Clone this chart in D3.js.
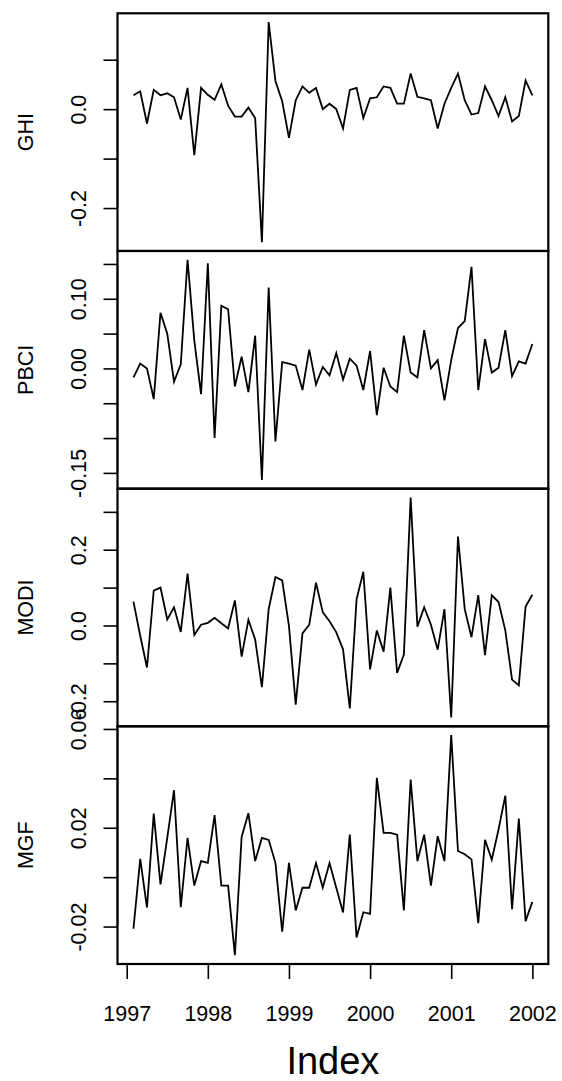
<!DOCTYPE html>
<html>
<head>
<meta charset="utf-8">
<script src="https://cdn.jsdelivr.net/npm/d3@7"></script>
<style>
  html, body { margin: 0; padding: 0; background: #fff; }
  svg { display: block; }
  text { font-family: "Liberation Sans", Arial, Helvetica, sans-serif; fill: #000; }
</style>
</head>
<body>
<script>
// ---------------- data ----------------
const seriesNames = ["GHI", "PBCI", "MODI", "MGF"];
const startYear = 1997, startMonth = 2;   // monthly data, Feb 1997 .. Jan 2002
const xTickLabels = [1997, 1998, 1999, 2000, 2001, 2002];
const xLabel = "Index";

const GHI = [0.028, 0.036, -0.029, 0.039, 0.028, 0.032, 0.024, -0.021, 0.043, -0.093,
  0.043, 0.029, 0.019, 0.050, 0.007, -0.015, -0.015, 0.003, -0.018, -0.269,
  0.176, 0.057, 0.016, -0.058, 0.018, 0.046, 0.033, 0.043, 0.000, 0.011,
  0.000, -0.039, 0.039, 0.043, -0.018, 0.022, 0.024, 0.046, 0.043, 0.011,
  0.011, 0.072, 0.025, 0.022, 0.018, -0.039, 0.011, 0.043, 0.072, 0.018,
  -0.011, -0.008, 0.046, 0.018, -0.014, 0.024, -0.025, -0.014, 0.058, 0.028];

const PBCI = [-0.013, 0.007, 0.000, -0.044, 0.080, 0.050, -0.019, 0.006, 0.156, 0.040,
  -0.037, 0.151, -0.100, 0.090, 0.085, -0.026, 0.017, -0.034, 0.047, -0.160,
  0.116, -0.105, 0.009, 0.007, 0.004, -0.031, 0.027, -0.023, 0.002, -0.010,
  0.022, -0.016, 0.014, 0.004, -0.031, 0.025, -0.067, 0.001, -0.026, -0.034,
  0.047, -0.006, -0.013, 0.055, 0.000, 0.012, -0.046, 0.012, 0.058, 0.068,
  0.146, -0.031, 0.042, -0.006, 0.001, 0.055, -0.011, 0.010, 0.007, 0.035];

const MODI = [0.063, -0.027, -0.111, 0.092, 0.100, 0.016, 0.048, -0.017, 0.137, -0.025,
  0.002, 0.007, 0.020, 0.006, -0.008, 0.066, -0.082, 0.015, -0.037, -0.163,
  0.043, 0.128, 0.119, -0.001, -0.209, -0.021, 0.002, 0.113, 0.035, 0.011,
  -0.018, -0.063, -0.219, 0.069, 0.142, -0.116, -0.013, -0.069, 0.100, -0.125,
  -0.077, 0.338, -0.003, 0.048, 0.002, -0.064, 0.043, -0.243, 0.235, 0.043,
  -0.031, 0.080, -0.078, 0.080, 0.062, -0.013, -0.143, -0.158, 0.050, 0.081];

const MGF = [-0.0209, 0.0074, -0.0123, 0.0257, -0.0029, 0.0159, 0.0352, -0.0122, 0.0159, -0.0034,
  0.0065, 0.0058, 0.0251, -0.0034, -0.0034, -0.0316, 0.0163, 0.0259, 0.0065, 0.0159,
  0.0151, 0.0058, -0.0221, 0.0058, -0.0135, -0.0043, -0.0043, 0.0057, -0.0042, 0.0057,
  -0.0043, -0.0143, 0.0172, -0.0244, -0.0142, -0.0149, 0.0402, 0.0179, 0.0179, 0.0172,
  -0.0135, 0.0395, 0.0065, 0.0172, -0.0034, 0.0166, 0.0065, 0.0575, 0.0106, 0.0093,
  0.0072, -0.0186, 0.0151, 0.0071, 0.0193, 0.0330, -0.0130, 0.0237, -0.0178, -0.0100];

// y-axis ticks (all) and the ones that carry a label
const yTicks = {
  GHI:  [-0.2, -0.1, 0.0, 0.1],
  PBCI: [-0.15, -0.10, -0.05, 0.00, 0.05, 0.10, 0.15],
  MODI: [-0.2, -0.1, 0.0, 0.1, 0.2, 0.3],
  MGF:  [-0.02, 0.00, 0.02, 0.04, 0.06]
};
const yTickLabels = {
  GHI:  ["-0.2", "0.0"],
  PBCI: ["-0.15", "0.00", "0.10"],
  MODI: ["-0.2", "0.0", "0.2"],
  MGF:  ["-0.02", "0.02", "0.06"]
};

// ---------------- layout ----------------
const W = 562, H = 1081;
const plotLeft = 117.5, plotRight = 548.3, plotTop = 13.3, plotBottom = 964;
const panelH = (plotBottom - plotTop) / seriesNames.length;
const fontSize = 21.5;

const values = { GHI, PBCI, MODI, MGF };
const dates = GHI.map((_, i) => startYear + (startMonth - 1 + i) / 12);

function padExtent(ext) {
  const p = (ext[1] - ext[0]) * 0.04;
  return [ext[0] - p, ext[1] + p];
}

const svg = d3.select("body").append("svg").attr("width", W).attr("height", H);

const x = d3.scaleLinear().domain(padExtent(d3.extent(dates))).range([plotLeft, plotRight]);

seriesNames.forEach((name, k) => {
  const top = plotTop + k * panelH, bottom = top + panelH;
  const vals = values[name];
  const y = d3.scaleLinear().domain(padExtent(d3.extent(vals))).range([bottom, top]);
  const g = svg.append("g");

  // series line
  const line = d3.line().x((d, i) => x(dates[i])).y(d => y(d));
  g.append("path").datum(vals).attr("d", line)
    .attr("fill", "none").attr("stroke", "#000").attr("stroke-width", 1.8)
    .attr("stroke-linejoin", "miter");

  // y axis
  const ticks = yTicks[name];
  const labelled = yTickLabels[name];
  const axis = d3.axisLeft(y).tickValues(ticks).tickSize(14).tickPadding(0)
    .tickFormat(d => { const s = labelled.find(l => Math.abs(+l - d) < 1e-9); return s === undefined ? "" : s; });
  const ax = g.append("g").attr("transform", `translate(${plotLeft},0)`).call(axis);
  ax.select(".domain").attr("d", `M0,${y(d3.min(ticks))}V${y(d3.max(ticks))}`)
    .attr("stroke", "#000").attr("stroke-width", 1.6);
  ax.selectAll(".tick line").attr("stroke", "#000").attr("stroke-width", 1.6);
  ax.selectAll(".tick text")
    .attr("x", null).attr("dy", null)
    .attr("transform", "translate(-31.8,0) rotate(-90)")
    .attr("text-anchor", "middle")
    .attr("font-size", fontSize)
    .attr("font-family", "'Liberation Sans', Arial, sans-serif")
    .attr("fill", "#000");

  // panel label
  g.append("text")
    .attr("transform", `translate(33.3,${(top + bottom) / 2}) rotate(-90)`)
    .attr("text-anchor", "middle").attr("font-size", fontSize)
    .text(name);

  // box
  g.append("rect").attr("x", plotLeft).attr("y", top)
    .attr("width", plotRight - plotLeft).attr("height", panelH)
    .attr("fill", "none").attr("stroke", "#000").attr("stroke-width", 2.2);
});

// x axis (bottom)
const xAxis = d3.axisBottom(x).tickValues(xTickLabels).tickSize(15).tickPadding(0).tickFormat(d3.format("d"));
const xa = svg.append("g").attr("transform", `translate(0,${plotBottom})`).call(xAxis);
xa.select(".domain").attr("d", `M${x(xTickLabels[0])},0H${x(xTickLabels[xTickLabels.length - 1])}`)
  .attr("stroke", "#000").attr("stroke-width", 1.6);
xa.selectAll(".tick line").attr("stroke", "#000").attr("stroke-width", 1.6);
xa.selectAll(".tick text").attr("y", 57).attr("dy", null)
  .attr("font-size", fontSize)
  .attr("font-family", "'Liberation Sans', Arial, sans-serif").attr("fill", "#000");

svg.append("text")
  .attr("x", (plotLeft + plotRight) / 2).attr("y", 1074)
  .attr("text-anchor", "middle").attr("font-size", 38)
  .text(xLabel);
</script>
</body>
</html>
